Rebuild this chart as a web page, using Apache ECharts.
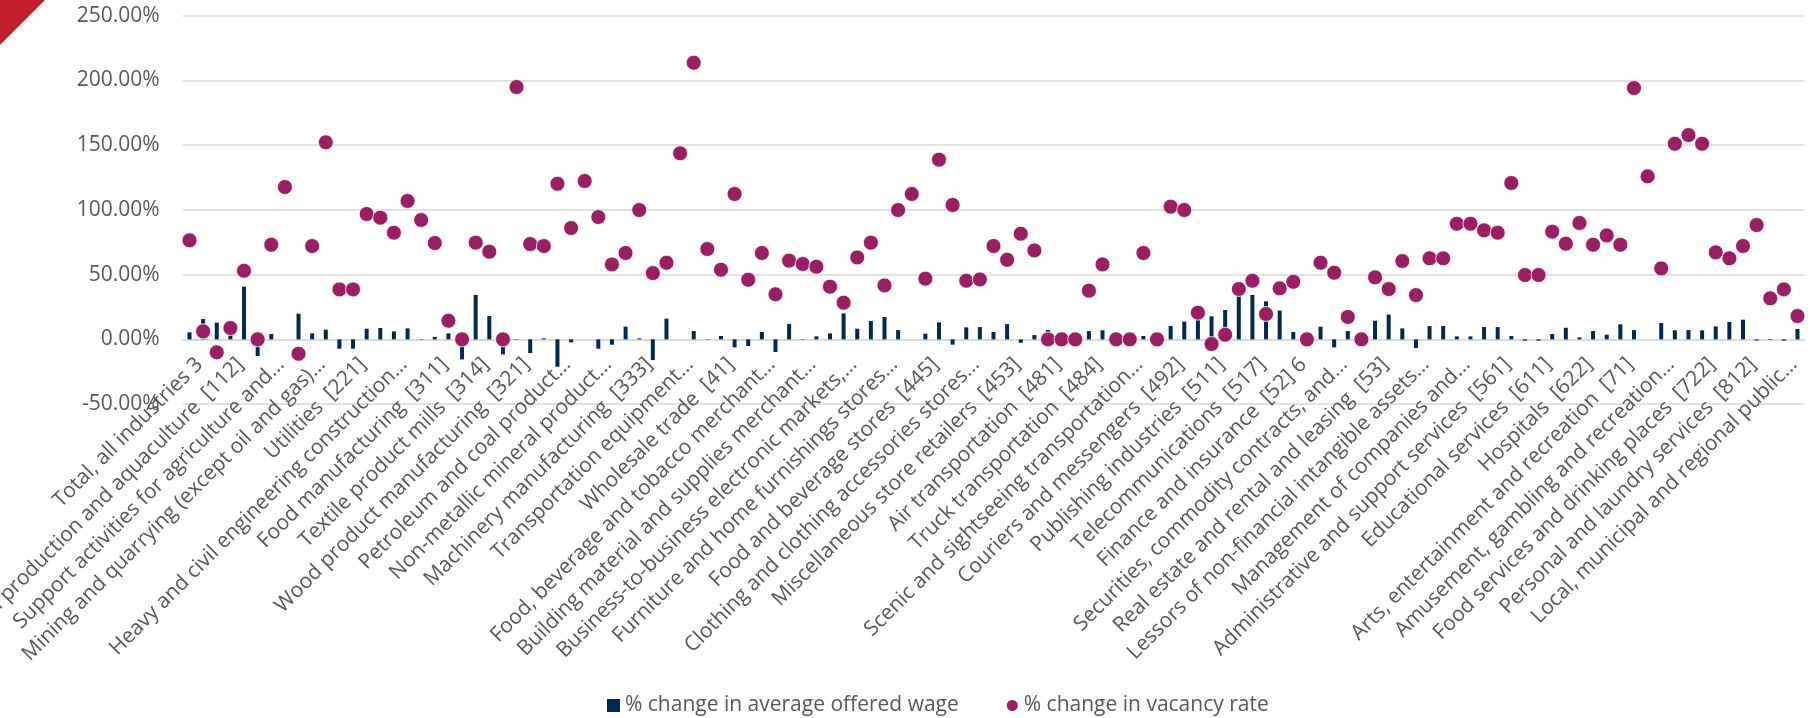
<!DOCTYPE html>
<html>
<head>
<meta charset="utf-8">
<script src="https://cdn.jsdelivr.net/npm/echarts@6/dist/echarts.min.js"></script>
<style>
  html, body { margin: 0; padding: 0; background: #ffffff; }
  #chart { width: 1816px; height: 718px; }
</style>
</head>
<body>
<div id="chart"></div>
<script>
// Industries (NAICS), in survey order
const categories = [
  "Total, all industries",
  "Agriculture, forestry, fishing and hunting [11]",
  "Crop production [111]",
  "Animal production and aquaculture [112]",
  "Forestry and logging [113]",
  "Fishing, hunting and trapping [114]",
  "Support activities for agriculture and forestry [115]",
  "Mining, quarrying, and oil and gas extraction [21]",
  "Oil and gas extraction [211]",
  "Mining and quarrying (except oil and gas) [212]",
  "Support activities for mining, and oil and gas extraction [213]",
  "Utilities [22]",
  "Utilities [221]",
  "Construction [23]",
  "Construction of buildings [236]",
  "Heavy and civil engineering construction [237]",
  "Specialty trade contractors [238]",
  "Manufacturing [31-33]",
  "Food manufacturing [311]",
  "Beverage and tobacco product manufacturing [312]",
  "Textile mills [313]",
  "Textile product mills [314]",
  "Clothing manufacturing [315]",
  "Leather and allied product manufacturing [316]",
  "Wood product manufacturing [321]",
  "Paper manufacturing [322]",
  "Printing and related support activities [323]",
  "Petroleum and coal product manufacturing [324]",
  "Chemical manufacturing [325]",
  "Plastics and rubber products manufacturing [326]",
  "Non-metallic mineral product manufacturing [327]",
  "Primary metal manufacturing [331]",
  "Fabricated metal product manufacturing [332]",
  "Machinery manufacturing [333]",
  "Computer and electronic product manufacturing [334]",
  "Electrical equipment, appliance and component manufacturing [335]",
  "Transportation equipment manufacturing [336]",
  "Furniture and related product manufacturing [337]",
  "Miscellaneous manufacturing [339]",
  "Wholesale trade [41]",
  "Farm product merchant wholesalers [411]",
  "Petroleum and petroleum products merchant wholesalers [412]",
  "Food, beverage and tobacco merchant wholesalers [413]",
  "Personal and household goods merchant wholesalers [414]",
  "Motor vehicle and motor vehicle parts and accessories merchant wholesalers [415]",
  "Building material and supplies merchant wholesalers [416]",
  "Machinery, equipment and supplies merchant wholesalers [417]",
  "Miscellaneous merchant wholesalers [418]",
  "Business-to-business electronic markets, and agents and brokers [419]",
  "Retail trade [44-45]",
  "Motor vehicle and parts dealers [441]",
  "Furniture and home furnishings stores [442]",
  "Electronics and appliance stores [443]",
  "Building material and garden equipment and supplies dealers [444]",
  "Food and beverage stores [445]",
  "Health and personal care stores [446]",
  "Gasoline stations [447]",
  "Clothing and clothing accessories stores [448]",
  "Sporting goods, hobby, book and music stores [451]",
  "General merchandise stores [452]",
  "Miscellaneous store retailers [453]",
  "Non-store retailers [454]",
  "Transportation and warehousing [48-49]",
  "Air transportation [481]",
  "Rail transportation [482]",
  "Water transportation [483]",
  "Truck transportation [484]",
  "Transit and ground passenger transportation [485]",
  "Pipeline transportation [486]",
  "Scenic and sightseeing transportation [487]",
  "Support activities for transportation [488]",
  "Postal service [491]",
  "Couriers and messengers [492]",
  "Warehousing and storage [493]",
  "Information and cultural industries [51]",
  "Publishing industries [511]",
  "Motion picture and sound recording industries [512]",
  "Broadcasting [515]",
  "Telecommunications [517]",
  "Data processing, hosting, and related services [518]",
  "Other information services [519]",
  "Finance and insurance [52]",
  "Monetary authorities - central bank [521]",
  "Credit intermediation and related activities [522]",
  "Securities, commodity contracts, and other financial investment and related activities [523]",
  "Insurance carriers and related activities [524]",
  "Funds and other financial vehicles [526]",
  "Real estate and rental and leasing [53]",
  "Real estate [531]",
  "Rental and leasing services [532]",
  "Lessors of non-financial intangible assets (except copyrighted works) [533]",
  "Professional, scientific and technical services [54]",
  "Professional, scientific and technical services [541]",
  "Management of companies and enterprises [55]",
  "Management of companies and enterprises [551]",
  "Administrative and support, waste management and remediation services [56]",
  "Administrative and support services [561]",
  "Waste management and remediation services [562]",
  "Educational services [61]",
  "Educational services [611]",
  "Health care and social assistance [62]",
  "Ambulatory health care services [621]",
  "Hospitals [622]",
  "Nursing and residential care facilities [623]",
  "Social assistance [624]",
  "Arts, entertainment and recreation [71]",
  "Performing arts, spectator sports and related industries [711]",
  "Heritage institutions [712]",
  "Amusement, gambling and recreation industries [713]",
  "Accommodation and food services [72]",
  "Accommodation services [721]",
  "Food services and drinking places [722]",
  "Other services (except public administration) [81]",
  "Repair and maintenance [811]",
  "Personal and laundry services [812]",
  "Religious, grant-making, civic, and professional and similar organizations [813]",
  "Public administration [91]",
  "Local, municipal and regional public administration [913]",
  "Aboriginal public administration [914]"
];

// Axis text shown under every third industry
const tickLabels = [
  "Total, all industries 3",
  "Animal production and aquaculture  [112]",
  "Support activities for agriculture and…",
  "Mining and quarrying (except oil and gas)…",
  "Utilities  [221]",
  "Heavy and civil engineering construction…",
  "Food manufacturing  [311]",
  "Textile product mills  [314]",
  "Wood product manufacturing  [321]",
  "Petroleum and coal product…",
  "Non-metallic mineral product…",
  "Machinery manufacturing  [333]",
  "Transportation equipment…",
  "Wholesale trade  [41]",
  "Food, beverage and tobacco merchant…",
  "Building material and supplies merchant…",
  "Business-to-business electronic markets,…",
  "Furniture and home furnishings stores…",
  "Food and beverage stores  [445]",
  "Clothing and clothing accessories stores…",
  "Miscellaneous store retailers  [453]",
  "Air transportation  [481]",
  "Truck transportation  [484]",
  "Scenic and sightseeing transportation…",
  "Couriers and messengers  [492]",
  "Publishing industries  [511]",
  "Telecommunications  [517]",
  "Finance and insurance  [52] 6",
  "Securities, commodity contracts, and…",
  "Real estate and rental and leasing  [53]",
  "Lessors of non-financial intangible assets…",
  "Management of companies and…",
  "Administrative and support services  [561]",
  "Educational services  [611]",
  "Hospitals  [622]",
  "Arts, entertainment and recreation  [71]",
  "Amusement, gambling and recreation…",
  "Food services and drinking places  [722]",
  "Personal and laundry services  [812]",
  "Local, municipal and regional public…"
];

// % change in average offered wage
const wageChange = [
  5.4, 15.7, 12.9, 9.0, 40.7, -12.9, 4.1, 0, 19.8, 4.6,
  7.5, -7.2, -7.2, 8.2, 8.8, 6.2, 8.5, 0.3, 1.8, 4.6,
  -15.5, 34.3, 18.0, -11.6, 0.3, -10.6, 0.8, -21.1, -2.3, 0,
  -7.2, -4.1, 9.8, 0.8, -16.0, 16.0, 0, 6.4, -0.3, 2.6,
  -6.2, -5.2, 5.7, -9.8, 11.8, 0.3, 2.3, 4.6, 20.1, 8.2,
  14.2, 17.3, 7.2, 0, 4.4, 13.1, -4.1, 9.3, 9.5, 5.7,
  11.8, -2.6, 3.3, 7.2, 0, 0, 6.4, 7.0, 0, 0,
  2.6, 0, 10.3, 13.7, 17.0, 17.8, 22.7, 34.3, 34.3, 29.4,
  22.2, 5.7, 0, 9.8, -6.2, 6.4, 0, 14.4, 19.1, 8.5,
  -6.7, 10.3, 10.3, 2.3, 2.3, 9.5, 9.5, 2.6, -1.0, -1.0,
  4.1, 9.0, 1.5, 6.4, 3.6, 11.6, 7.2, 0, 12.6, 7.0,
  7.2, 7.0, 10.0, 13.4, 15.2, -0.8, -0.5, -1.0, 8.0
];

// % change in vacancy rate
const vacancyChange = [
  76.5, 6.2, -10.0, 8.8, 53.0, 0, 73.1, 117.7, -11.1, 72.1,
  152.2, 38.6, 38.6, 96.8, 94.0, 82.4, 106.9, 92.2, 74.4, 14.4,
  0, 74.7, 67.7, 0, 194.9, 73.6, 72.1, 120.2, 86.0, 122.3,
  94.5, 57.9, 66.7, 99.9, 51.2, 59.2, 143.7, 213.7, 69.8, 53.8,
  112.3, 46.1, 66.7, 34.8, 60.8, 58.2, 56.1, 40.7, 28.3, 63.3,
  74.7, 41.7, 99.9, 112.3, 46.9, 138.8, 103.8, 45.3, 46.3, 72.1,
  61.5, 81.6, 68.7, 0, 0, 0, 37.6, 57.9, 0, 0,
  66.7, 0, 102.5, 99.9, 20.6, -3.6, 3.6, 38.9, 45.3, 19.6,
  39.4, 44.5, 0, 59.2, 51.5, 17.3, 0, 47.9, 38.9, 60.5,
  34.2, 62.6, 62.6, 89.3, 89.3, 84.2, 82.4, 120.8, 49.7, 49.7,
  83.2, 73.9, 89.9, 73.1, 80.3, 73.1, 194.1, 125.9, 54.8, 151.1,
  157.8, 151.1, 67.2, 62.6, 72.1, 88.3, 31.7, 38.6, 18.0
];

const seriesNames = ["% change in average offered wage", "% change in vacancy rate"];

// value-axis range; the category axis sits on the zero line
const yMin = -50;
const yMax = 250;
const yStep = 50;

const textColor = "#595959";
const fontFamily = "'Open Sans', 'DejaVu Sans', sans-serif";

const gridTop = 15.7;
const gridBottomY = 404.1;
const chartHeight = 718;

// distance from the bottom of the plot up to the zero line
const zeroLift = (gridBottomY - gridTop) * (0 - yMin) / (yMax - yMin);

const chart = echarts.init(document.getElementById("chart"), null, { renderer: "canvas" });

chart.setOption({
  backgroundColor: "#ffffff",
  animation: false,
  textStyle: { fontFamily: fontFamily },
  graphic: [{
    type: "polygon",
    shape: { points: [[0, 0], [45, 0], [0, 45]] },
    style: { fill: "#C41E2A" },
    z: 10
  }],
  legend: {
    left: 602,
    top: 690,
    itemWidth: 13,
    itemHeight: 13,
    itemGap: 46,
    textStyle: { fontSize: 21, color: textColor, fontFamily: fontFamily },
    data: [
      { name: seriesNames[0], icon: "rect" },
      { name: seriesNames[1], icon: "circle" }
    ]
  },
  grid: {
    left: 182.7,
    right: 11.7,
    top: gridTop,
    bottom: chartHeight - gridBottomY,
    outerBoundsMode: "none"
  },
  xAxis: {
    type: "category",
    data: categories,
    offset: -zeroLift,
    axisLine: { show: true, onZero: false, lineStyle: { color: "#D9D9D9", width: 1.5 } },
    axisTick: { show: false },
    axisLabel: {
      interval: 2,
      rotate: 45,
      margin: 12,
      verticalAlign: "top",
      lineHeight: 28,
      fontSize: 21,
      color: textColor,
      fontFamily: fontFamily,
      formatter: function (value, index) {
        return tickLabels[Math.round(index / 3)] || "";
      }
    }
  },
  yAxis: {
    type: "value",
    min: yMin,
    max: yMax,
    interval: yStep,
    axisLine: { show: false },
    axisTick: { show: false },
    splitLine: { show: true, lineStyle: { color: "#D9D9D9", width: 1.5 } },
    axisLabel: {
      margin: 23,
      fontSize: 21,
      color: textColor,
      fontFamily: fontFamily,
      formatter: function (v) { return v.toFixed(2) + "%"; }
    }
  },
  series: [
    {
      name: seriesNames[0],
      type: "bar",
      data: wageChange,
      barWidth: 4,
      itemStyle: { color: "#002855" }
    },
    {
      name: seriesNames[1],
      type: "scatter",
      data: vacancyChange,
      symbol: "circle",
      symbolSize: 15,
      itemStyle: { color: "#9B1D63", opacity: 1, borderColor: "#ffffff", borderWidth: 0.8 }
    }
  ]
});
</script>
</body>
</html>
